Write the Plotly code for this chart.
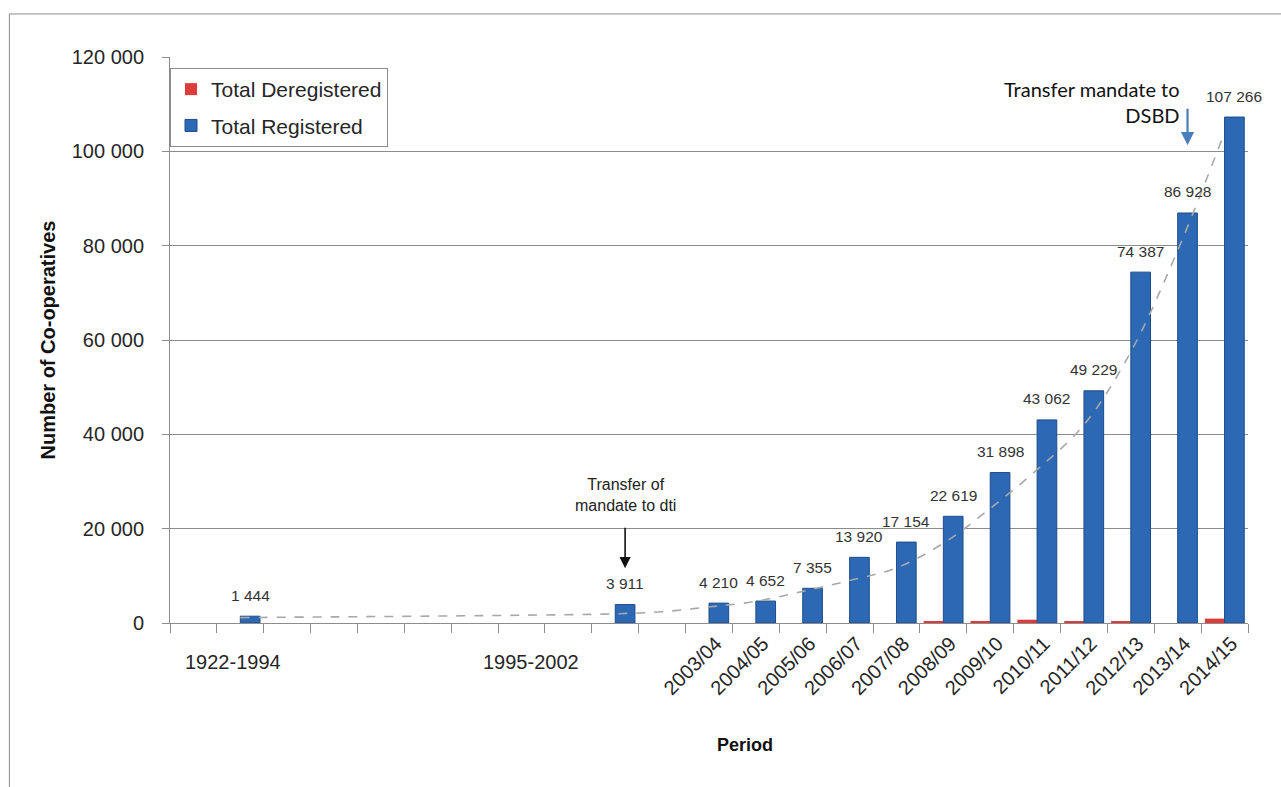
import plotly.graph_objects as go

# ---------------- data ----------------
periods = ["1922-1994", "1995-2002", "2003/04", "2004/05", "2005/06", "2006/07",
           "2007/08", "2008/09", "2009/10", "2010/11", "2011/12", "2012/13",
           "2013/14", "2014/15"]
registered = [1444, 3911, 4210, 4652, 7355, 13920, 17154, 22619, 31898,
              43062, 49229, 74387, 86928, 107266]
deregistered = [0, 0, 0, 0, 0, 0, 0, 250, 300, 700, 350, 350, 0, 930]
# category slot of each period on the 23-slot category axis (blank slots between)
category_slot = [1, 9, 11, 12, 13, 14, 15, 16, 17, 18, 19, 20, 21, 22]
n_slots = 23

# dashed trend line
trend_slot = [1, 3, 5, 7, 9, 10, 11, 12, 13, 14, 15, 16, 17, 18, 19, 20, 21, 22]
trend_value = [1150, 1300, 1450, 1650, 1950, 2400, 3400, 4600, 6700, 9000,
               11700, 16900, 24300, 32500, 42000, 57500, 79000, 104000]

y_ticks = [0, 20000, 40000, 60000, 80000, 100000, 120000]


def fmt(v):
    return f"{v:,}".replace(",", " ")


FONT = "Liberation Sans, Arial, sans-serif"
BLUE = "#2c68b4"
BLUE_EDGE = "#1d4c8a"
RED = "#de3b3b"
GRID = "#8c8c8c"
TXT = "#262626"

fig = go.Figure()

fig.add_trace(go.Bar(
    x=category_slot, y=deregistered, name="Total Deregistered",
    legendgroup="d",
    marker=dict(color=RED, line=dict(width=0)),
    hoverinfo="skip",
))
fig.add_trace(go.Bar(
    x=category_slot, y=registered, name="Total Registered",
    legendgroup="r",
    marker=dict(color=BLUE, line=dict(color=BLUE_EDGE, width=1)),
    hoverinfo="skip",
))
fig.add_trace(go.Scatter(
    x=trend_slot, y=trend_value, mode="lines", showlegend=False,
    line=dict(color="#a8a8a8", width=1.6, dash="dash", shape="spline"),
    hoverinfo="skip",
))

rot_labels = periods[2:]
rot_slots = category_slot[2:]

fig.update_layout(
    width=1281, height=787,
    margin=dict(l=170, r=33, t=57, b=164),
    paper_bgcolor="white", plot_bgcolor="white",
    barmode="group", bargap=0.16, bargroupgap=0,
    font=dict(family=FONT, color=TXT),
    showlegend=True,
    legend=dict(
        x=0.0, y=0.9806, xanchor="left", yanchor="top",
        bgcolor="white", bordercolor="#8a8a8a", borderwidth=1,
        font=dict(size=21, family=FONT, color=TXT),
        tracegroupgap=6, itemwidth=30,
    ),
    xaxis=dict(
        range=[-0.5, n_slots - 0.5],
        tickmode="array",
        tickvals=[s + 0.15 for s in rot_slots],
        ticktext=rot_labels,
        tickangle=-45,
        ticks="",
        tickfont=dict(size=20, family=FONT, color=TXT),
        showgrid=False,
        showline=True, linecolor=GRID, linewidth=1,
        zeroline=False,
        minor=dict(ticks="outside", ticklen=9, tickcolor=GRID, tickwidth=1,
                   tick0=0.5, dtick=1, showgrid=False),
    ),
    yaxis=dict(
        range=[0, 120000],
        tickmode="array", tickvals=y_ticks,
        ticktext=[fmt(v) for v in y_ticks],
        tickfont=dict(size=20, family=FONT, color=TXT),
        ticks="outside", ticklen=7, tickcolor=GRID,
        ticklabelstandoff=14,
        showgrid=True, gridcolor=GRID, gridwidth=1,
        showline=True, linecolor=GRID, linewidth=1,
        zeroline=False,
        title=dict(text="<b>Number of Co-operatives</b>",
                   font=dict(size=20, family=FONT, color="#111"),
                   standoff=10),
    ),
)

# value labels above the registered bars
for s, v in zip(category_slot, registered):
    fig.add_annotation(x=s + 0.21, y=v, text=fmt(v), showarrow=False,
                       yshift=21, font=dict(size=15.5, family=FONT, color="#333"))

# horizontal category labels for the first two periods
fig.add_annotation(x=0.84, y=0, yref="y", text=periods[0], showarrow=False,
                   yshift=-39, font=dict(size=20, family=FONT, color=TXT))
fig.add_annotation(x=7.21, y=0, yref="y", text=periods[1], showarrow=False,
                   yshift=-39, font=dict(size=20, family=FONT, color=TXT))

# x-axis title
fig.add_annotation(x=0.533, y=-0.237, xref="paper", yref="paper",
                   text="<b>Period</b>", showarrow=False,
                   font=dict(size=18, family=FONT, color="#111"))

# "Transfer of mandate to dti" note with black arrow
dti_x = category_slot[1] + 0.21
fig.add_annotation(x=dti_x, y=11600, text="", showarrow=True,
                   ax=0, ay=-42, arrowhead=2, arrowsize=1.4, arrowwidth=1.6,
                   arrowcolor="#111")
fig.add_annotation(x=dti_x, y=11600, text="Transfer of<br>mandate to dti",
                   showarrow=False, yshift=73, align="center",
                   font=dict(size=16, family=FONT, color="#222"))

# "Transfer mandate to DSBD" note with blue arrow
dsbd_x = category_slot[12] + 0.21
fig.add_annotation(x=dsbd_x, y=101300, text="", showarrow=True,
                   ax=0, ay=-38, arrowhead=2, arrowsize=1.2, arrowwidth=2.2,
                   arrowcolor="#4a7ebb")
fig.add_annotation(x=dsbd_x, y=101300, text="Transfer mandate to<br>DSBD",
                   showarrow=False, xanchor="right", xshift=-6, yshift=43,
                   align="right",
                   font=dict(size=20, family="Lato, Carlito, sans-serif",
                             color="#111"))

# outer frame
fig.add_shape(type="rect", xref="paper", yref="paper",
              x0=-0.149, y0=-0.4, x1=1.1, y1=1.076,
              line=dict(color="#8a8a8a", width=1), fillcolor="rgba(0,0,0,0)",
              layer="below")

fig.write_html("out.html")
